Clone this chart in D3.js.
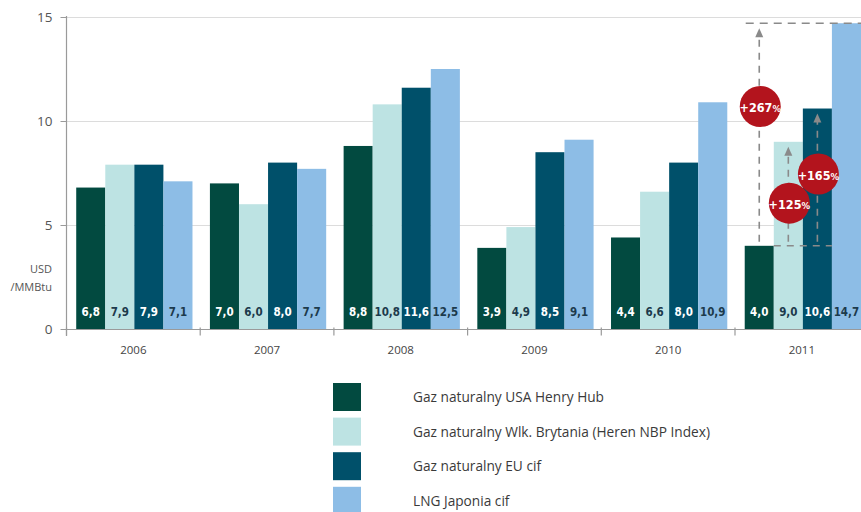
<!DOCTYPE html>
<html>
<head>
<meta charset="utf-8">
<script src="https://cdn.jsdelivr.net/npm/d3@7/dist/d3.min.js"></script>
<style>
  html, body { margin: 0; padding: 0; background: #fff; }
  svg { display: block; }
</style>
</head>
<body>
<svg id="chart" width="861" height="512"></svg>
<script>
// Gas prices, USD/MMBtu
const years = ["2006", "2007", "2008", "2009", "2010", "2011"];
const henryHub = [6.8, 7.0, 8.8, 3.9, 4.4, 4.0];
const nbpIndex = [7.9, 6.0, 10.8, 4.9, 6.6, 9.0];
const euCif = [7.9, 8.0, 11.6, 8.5, 8.0, 10.6];
const lngJapan = [7.1, 7.7, 12.5, 9.1, 10.9, 14.7];

const seriesKeys = ["hh", "nbp", "eu", "lng"];
const seriesNames = [
  "Gaz naturalny USA Henry Hub",
  "Gaz naturalny Wlk. Brytania (Heren NBP Index)",
  "Gaz naturalny EU cif",
  "LNG Japonia cif"
];
const seriesColors = ["#024a40", "#bde3e3", "#00506a", "#8dbde6"];
const labelColors = ["#ffffff", "#1c3a4c", "#ffffff", "#1c3a4c"];
const yTicks = [0, 5, 10, 15];

// 2011 growth versus Henry Hub
const growthLabels = ["+267", "+125", "+165"];

const seriesValues = [henryHub, nbpIndex, euCif, lngJapan];
const rows = years.map((yr, i) => ({
  year: yr,
  values: seriesKeys.map((k, s) => ({ key: k, s, value: seriesValues[s][i] }))
}));

const svg = d3.select("#chart");
const font = "'Open Sans', 'DejaVu Sans', sans-serif";

const y = d3.scaleLinear().domain([0, 15]).range([329, 17]);
const x0 = d3.scaleBand().domain(years).range([66.5, 66.5 + 6 * 133.7]);
const x1 = d3.scaleBand().domain(seriesKeys).range([0, x0.bandwidth()])
  .paddingInner(0).paddingOuter(0.3);

// gridlines
svg.append("g").selectAll("line")
  .data(yTicks.filter(t => t > 0))
  .join("line")
  .attr("x1", 61).attr("x2", 861)
  .attr("y1", d => y(d) + 0.5).attr("y2", d => y(d) + 0.5)
  .attr("stroke", "#dcdcdc").attr("stroke-width", 1);

// bars
const groups = svg.append("g").selectAll("g")
  .data(rows)
  .join("g")
  .attr("transform", d => `translate(${x0(d.year) + 1},0)`);

groups.selectAll("rect")
  .data(d => d.values)
  .join("rect")
  .attr("x", d => x1(d.key))
  .attr("width", x1.bandwidth())
  .attr("y", d => y(d.value))
  .attr("height", d => y(0) - y(d.value))
  .attr("fill", d => seriesColors[d.s]);

groups.selectAll("text")
  .data(d => d.values)
  .join("text")
  .attr("x", d => x1(d.key) + x1.bandwidth() / 2)
  .attr("y", 316)
  .attr("text-anchor", "middle")
  .attr("font-family", "'DejaVu Sans Condensed', 'DejaVu Sans', sans-serif")
  .attr("font-weight", "bold")
  .attr("font-size", 11.5)
  .attr("fill", d => labelColors[d.s])
  .text(d => d3.format(".1f")(d.value).replace(".", ","));

// y axis
const yAxis = svg.append("g").attr("transform", "translate(66.5,0)");
yAxis.append("line")
  .attr("x1", 0).attr("x2", 0).attr("y1", 16).attr("y2", 336)
  .attr("stroke", "#9a9a9a").attr("stroke-width", 1.2);
yAxis.selectAll("line.tick")
  .data(yTicks)
  .join("line")
  .attr("class", "tick")
  .attr("x1", -6).attr("x2", 0)
  .attr("y1", d => y(d) + 0.5).attr("y2", d => y(d) + 0.5)
  .attr("stroke", "#9a9a9a");
yAxis.selectAll("text")
  .data(yTicks)
  .join("text")
  .attr("x", -14)
  .attr("y", d => y(d))
  .attr("dy", "0.36em")
  .attr("text-anchor", "end")
  .attr("font-family", font)
  .attr("font-size", 13.5)
  .attr("fill", "#555")
  .text(d => d);

svg.append("text")
  .attr("x", 52).attr("y", 273)
  .attr("text-anchor", "end")
  .attr("font-family", font).attr("font-size", 11).attr("fill", "#555")
  .text("USD");
svg.append("text")
  .attr("x", 52).attr("y", 291)
  .attr("text-anchor", "end")
  .attr("font-family", font).attr("font-size", 11).attr("fill", "#555")
  .text("/MMBtu");

// x axis
const xAxis = svg.append("g").attr("transform", `translate(0,${y(0) + 0.5})`);
xAxis.append("line")
  .attr("x1", 66.5).attr("x2", 861)
  .attr("stroke", "#9a9a9a").attr("stroke-width", 1.2);
xAxis.selectAll("line.tick")
  .data(years)
  .join("line")
  .attr("class", "tick")
  .attr("x1", d => x0(d)).attr("x2", d => x0(d))
  .attr("y1", -2).attr("y2", 6)
  .attr("stroke", "#9a9a9a").attr("stroke-width", 1.2);
xAxis.selectAll("text")
  .data(years)
  .join("text")
  .attr("x", d => x0(d) + x0.bandwidth() / 2)
  .attr("y", 24)
  .attr("text-anchor", "middle")
  .attr("font-family", font).attr("font-size", 11.5).attr("fill", "#444")
  .text(d => d);

// 2011 growth annotation
const last = rows[rows.length - 1];
const gx = x0(last.year) + 1;
const cx = k => gx + x1(k) + x1.bandwidth() / 2;
const base = henryHub[henryHub.length - 1];
const dashColor = "#8a8a8a";
const ann = svg.append("g");

ann.append("line")
  .attr("x1", gx + x1("hh") + 1).attr("x2", 861)
  .attr("y1", y(lngJapan[5])).attr("y2", y(lngJapan[5]))
  .attr("stroke", dashColor).attr("stroke-width", 1.6)
  .attr("stroke-dasharray", "8,6");
ann.append("line")
  .attr("x1", gx + x1("hh") + x1.bandwidth()).attr("x2", gx + x1("lng"))
  .attr("y1", y(base)).attr("y2", y(base))
  .attr("stroke", dashColor).attr("stroke-width", 1.6)
  .attr("stroke-dasharray", "7,6");

const arrows = [
  { key: "hh", top: lngJapan[5] },
  { key: "nbp", top: nbpIndex[5] },
  { key: "eu", top: euCif[5] }
];
arrows.forEach(a => {
  const ax = cx(a.key);
  const ty = y(a.top) + 5;
  ann.append("line")
    .attr("x1", ax).attr("x2", ax)
    .attr("y1", y(base) - 4).attr("y2", ty + 8)
    .attr("stroke", dashColor).attr("stroke-width", 1.6)
    .attr("stroke-dasharray", "7,6");
  ann.append("path")
    .attr("d", `M${ax},${ty} L${ax - 4},${ty + 9} L${ax + 4},${ty + 9} Z`)
    .attr("fill", dashColor);
});

// growth bubbles, centred over each series' arrow
const bubbles = [
  { key: "hh", level: 10.7, label: growthLabels[0] },
  { key: "nbp", level: 6.05, label: growthLabels[1] },
  { key: "eu", level: 7.45, label: growthLabels[2] }
];
bubbles.forEach(b => {
  const bx = cx(b.key) + 1;
  const by = y(b.level);
  ann.append("circle")
    .attr("cx", bx).attr("cy", by).attr("r", 20.5)
    .attr("fill", "#b3141d");
  const t = ann.append("text")
    .attr("x", bx).attr("y", by)
    .attr("dy", "0.36em")
    .attr("text-anchor", "middle")
    .attr("font-family", "'DejaVu Sans Condensed', 'DejaVu Sans', sans-serif")
    .attr("font-weight", "bold")
    .attr("fill", "#fff");
  t.append("tspan").attr("font-size", 12.5).text(b.label);
  t.append("tspan").attr("font-size", 9.5).text("%");
});

// legend
const legend = svg.append("g").attr("transform", "translate(333,383)");
const li = legend.selectAll("g")
  .data(seriesNames)
  .join("g")
  .attr("transform", (d, i) => `translate(0,${i * 34.6})`);
li.append("rect")
  .attr("width", 28).attr("height", 28)
  .attr("fill", (d, i) => seriesColors[i]);
li.append("text")
  .attr("x", 80).attr("y", 14)
  .attr("dy", "0.36em")
  .attr("font-family", font).attr("font-size", 13.7).attr("fill", "#3a3a3a")
  .text(d => d);
</script>
</body>
</html>
